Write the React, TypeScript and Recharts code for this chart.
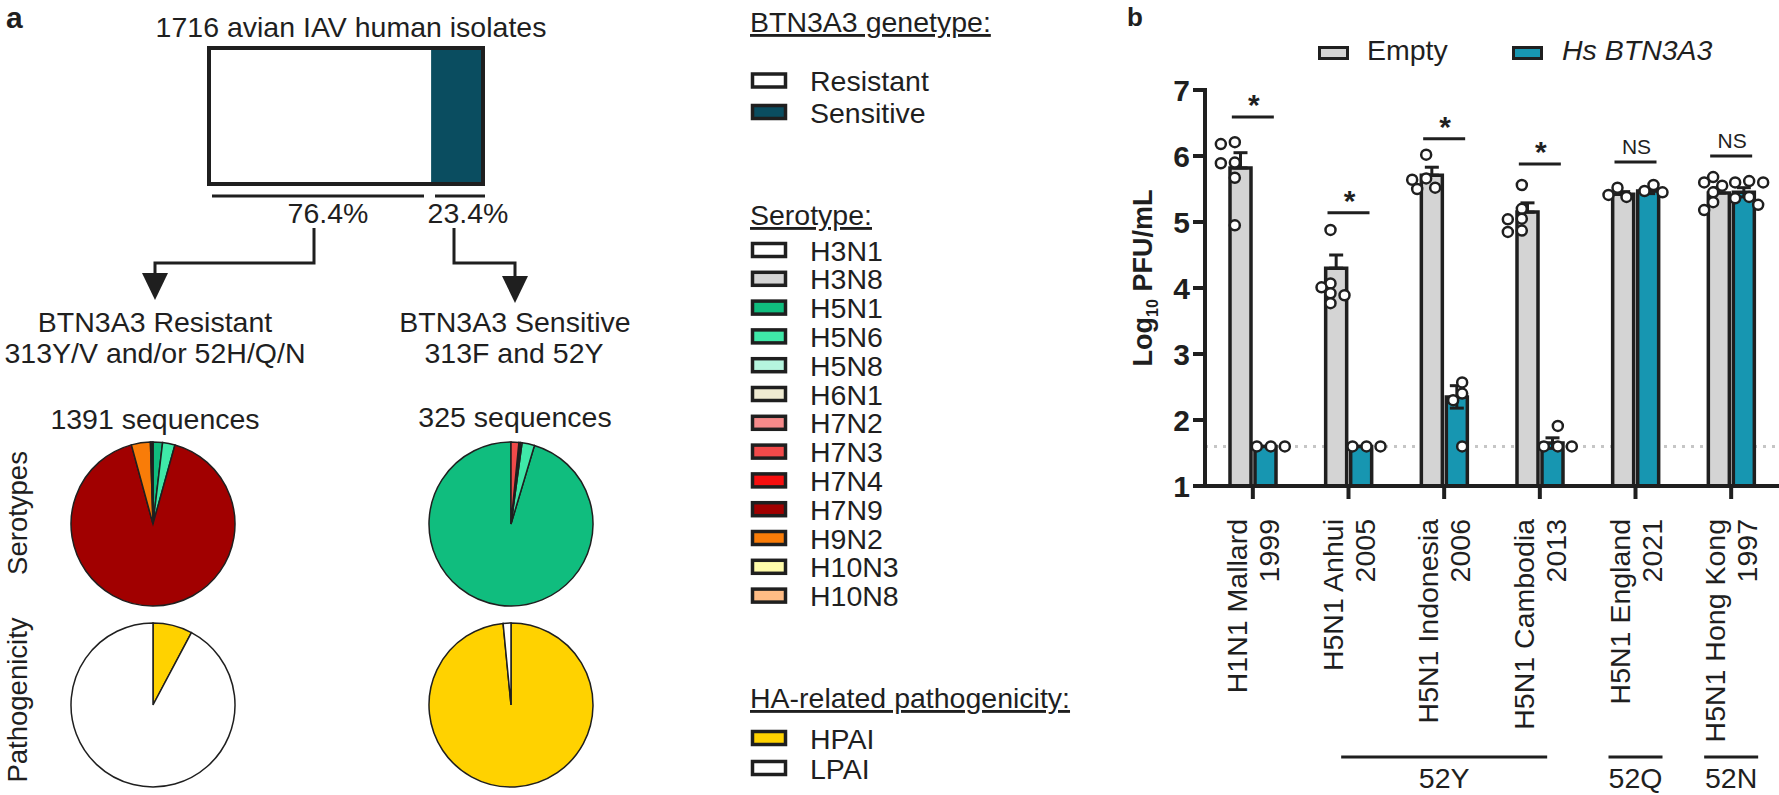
import React from "react";
import {
  BarChart,
  Bar,
  XAxis,
  YAxis,
  ReferenceArea,
  ReferenceLine,
  PieChart,
  Pie,
  Cell,
  ComposedChart,
  ErrorBar,
  Scatter,
} from "recharts";

const FONT = "'Liberation Sans', Arial, Helvetica, sans-serif";
const INK = "#1f1f1f";

// ---------- panel a ----------
const totalIsolates = 1716;
const genotypes = ["Resistant", "Sensitive"];
const genotypeCounts = [1391, 325];
const genotypeShares = ["76.4%", "23.4%"];
const genotypeColors = ["#ffffff", "#0a4d60"];

const serotypes = ["H3N1", "H3N8", "H5N1", "H5N6", "H5N8", "H6N1", "H7N2", "H7N3", "H7N4", "H7N9", "H9N2", "H10N3", "H10N8"];
const serotypeColors = ["#ffffff", "#d4d4d4", "#10bd7e", "#3fe8a8", "#b5f5de", "#efebd2", "#f68a8a", "#f24a4a", "#f70f0f", "#a10000", "#f97c08", "#fffcab", "#ffbc85"];
const resistantSerotypeCounts = [0, 0, 26, 34, 0, 0, 0, 0, 0, 1272, 52, 4, 3];
const sensitiveSerotypeCounts = [0, 0, 310, 8, 0, 1, 1, 5, 0, 0, 0, 0, 0];

const pathogenicity = ["HPAI", "LPAI"];
const pathogenicityColors = ["#ffd200", "#ffffff"];
const resistantPathogenicity = [108, 1283];
const sensitivePathogenicity = [320, 5];

// ---------- panel b ----------
const strains = ["H1N1 Mallard", "H5N1 Anhui", "H5N1 Indonesia", "H5N1 Cambodia", "H5N1 England", "H5N1 Hong Kong"];
const strainYears = ["1999", "2005", "2006", "2013", "2021", "1997"];
const emptyMeans = [5.82, 4.3, 5.71, 5.15, 5.42, 5.44];
const emptySem = [0.23, 0.2, 0.12, 0.14, 0.04, 0.08];
const hsMeans = [1.6, 1.6, 2.35, 1.65, 5.47, 5.45];
const hsSem = [0, 0, 0.17, 0.08, 0.04, 0.07];
const emptyPoints = [
  [6.21, 6.18, 5.9, 5.89, 5.67, 4.95],
  [4.88, 4.07, 4.01, 3.92, 3.89, 3.77],
  [6.02, 5.66, 5.64, 5.52, 5.5],
  [5.56, 5.2, 5.05, 5.04, 4.87, 4.85],
  [5.52, 5.41, 5.38],
  [5.68, 5.6, 5.55, 5.45, 5.3, 5.18],
];
const hsPoints = [
  [1.6, 1.6, 1.6],
  [1.6, 1.6, 1.6],
  [2.57, 2.4, 2.3, 1.6],
  [1.91, 1.6, 1.6, 1.6],
  [5.56, 5.47, 5.45],
  [5.62, 5.6, 5.6, 5.38, 5.36, 5.26],
];
const sigLevels = [6.59, 5.14, 6.26, 5.88, 5.91, 6.0];
const sigMarks = ["*", "*", "*", "*", "NS", "NS"];
const clades = [
  { label: "52Y", members: [1, 2, 3] },
  { label: "52Q", members: [4] },
  { label: "52N", members: [5] },
];
const yTicks = [1, 2, 3, 4, 5, 6, 7];
const limitOfDetection = 1.6;

// layout
const PLOT_TOP = 90;
const PLOT_H = 396;
const PX_PER_UNIT = PLOT_H / (yTicks[yTicks.length - 1] - yTicks[0]);
const BAR_SIZE = 21;
const BAR_GAP = 15;
const PAIR_OFFSET = (BAR_SIZE + BAR_GAP) / 2;
const CANDIDATES = [0, -9, 9, -14, 14, -4.5, 4.5];

// spread overlapping dots sideways, like a scatter dot plot
function spreadOffsets(values: number[]) {
  const order = values.map((_, i) => i).sort((a, b) => values[b] - values[a]);
  const placed: { dx: number; y: number }[] = [];
  const out = values.map(() => 0);
  for (const i of order) {
    const y = values[i] * PX_PER_UNIT;
    const dx = CANDIDATES.find((c) => placed.every((p) => Math.hypot(p.dx - c, p.y - y) >= 9.5)) ?? 0;
    placed.push({ dx, y });
    out[i] = dx;
  }
  return out;
}

const barRows = strains.map((name, i) => ({
  name,
  empty: emptyMeans[i],
  hs: hsMeans[i],
  emptyErr: [0, emptySem[i]],
  hsErr: [hsSem[i], hsSem[i]],
}));

const dotsFor = (points: number[][], side: number) =>
  strains.flatMap((name, i) => {
    const offs = spreadOffsets(points[i]);
    return points[i].map((v, k) => ({ name, v, dx: side * PAIR_OFFSET + offs[k] }));
  });
const emptyDots = dotsFor(emptyPoints, -1);
const hsDots = dotsFor(hsPoints, 1);
const sigRows = strains.map((name, i) => ({ name, v: sigLevels[i], mark: sigMarks[i] }));

const renderDot = (p: any) => (
  <circle cx={p.cx + (p.payload?.dx ?? 0)} cy={p.cy} r={5} fill="#fff" stroke={INK} strokeWidth={2.5} />
);

const renderSig = (p: any) => {
  const mark = p.payload?.mark ?? "";
  const star = mark === "*";
  return (
    <g>
      <line x1={p.cx - 21} x2={p.cx + 21} y1={p.cy} y2={p.cy} stroke={INK} strokeWidth={3} />
      <text
        x={p.cx + 1}
        y={star ? p.cy - 2 : p.cy - 8}
        textAnchor="middle"
        fontSize={star ? 30 : 21}
        fontWeight={star ? "bold" : "normal"}
        fontFamily={FONT}
        fill={INK}
      >
        {mark}
      </text>
    </g>
  );
};

const StrainTick = (p: any) => {
  const { x, y, payload } = p;
  const i = strains.indexOf(payload.value);
  const top = y + 20;
  const clade = clades.find((c) => c.members[Math.floor(c.members.length / 2)] === i);
  const half = clade && clade.members.length > 1 ? 103 : 27;
  return (
    <g fontFamily={FONT} fontSize={28.5} fill={INK}>
      <text x={x - 6} y={top} textAnchor="end" transform={`rotate(-90 ${x - 6} ${top})`}>
        {strains[i]}
      </text>
      <text x={x + 26} y={top} textAnchor="end" transform={`rotate(-90 ${x + 26} ${top})`}>
        {strainYears[i]}
      </text>
      {clade ? (
        <g>
          <line x1={x - half} x2={x + half} y1={y + 258} y2={y + 258} stroke={INK} strokeWidth={3} />
          <text x={x} y={y + 289} textAnchor="middle">
            {clade.label}
          </text>
        </g>
      ) : null}
    </g>
  );
};

const YLabel = (p: any) => {
  const vb = p.viewBox || { x: 0, y: PLOT_TOP, width: 105, height: PLOT_H };
  const bx = vb.x + 52;
  const cy = vb.y + vb.height / 2 - 10;
  return (
    <text
      x={bx}
      y={cy}
      transform={`rotate(-90 ${bx} ${cy})`}
      textAnchor="middle"
      fontFamily={FONT}
      fontSize={27}
      fontWeight="bold"
      fill={INK}
    >
      Log
      <tspan dy={6} fontSize={16}>
        10
      </tspan>
      <tspan dy={-6}> PFU/mL</tspan>
    </text>
  );
};

function IsolateBox() {
  const row = [{ name: "isolates", Resistant: genotypeCounts[0], Sensitive: genotypeCounts[1] }];
  return (
    <div style={{ position: "absolute", left: 200, top: 40 }}>
      <BarChart width={300} height={160} data={row} layout="vertical" margin={{ top: 8, left: 9, right: 17, bottom: 16 }} barCategoryGap={0}>
        <XAxis type="number" hide domain={[0, totalIsolates]} />
        <YAxis type="category" dataKey="name" hide />
        {genotypes.map((g, i) => (
          <Bar key={g} dataKey={g} stackId="g" fill={genotypeColors[i]} isAnimationActive={false} />
        ))}
        <ReferenceArea x1={0} x2={totalIsolates} fill="none" stroke={INK} strokeWidth={4} ifOverflow="visible" zIndex={1000} />
      </BarChart>
    </div>
  );
}

function PieAt({ cx, cy, labels, colors, counts, clockwise = true }: any) {
  const data = labels
    .map((name: string, i: number) => ({ name, value: counts[i], fill: colors[i] }))
    .filter((d: any) => d.value > 0);
  return (
    <div style={{ position: "absolute", left: cx - 90, top: cy - 90 }}>
      <PieChart width={180} height={180} margin={{ top: 0, right: 0, bottom: 0, left: 0 }}>
        <Pie
          data={data}
          dataKey="value"
          nameKey="name"
          cx="50%"
          cy="50%"
          innerRadius={0}
          outerRadius={82}
          startAngle={90}
          endAngle={clockwise ? -270 : 450}
          stroke={INK}
          strokeWidth={1.5}
          isAnimationActive={false}
        >
          {data.map((d: any) => (
            <Cell key={d.name} fill={d.fill} />
          ))}
        </Pie>
      </PieChart>
    </div>
  );
}

function PanelB() {
  return (
    <div style={{ position: "absolute", left: 1100, top: 0 }}>
      <ComposedChart width={679} height={795} data={barRows} margin={{ top: PLOT_TOP, right: 0, bottom: 0, left: 0 }}>
        <XAxis
          dataKey="name"
          type="category"
          allowDuplicatedCategory={false}
          height={309}
          interval={0}
          tickSize={13}
          tickMargin={0}
          axisLine={{ stroke: INK, strokeWidth: 4 }}
          tickLine={{ stroke: INK, strokeWidth: 4 }}
          tick={(p: any) => <StrainTick {...p} />}
        />
        <YAxis
          type="number"
          domain={[1, 7]}
          ticks={yTicks}
          width={105}
          tickSize={12}
          tickMargin={3}
          axisLine={{ stroke: INK, strokeWidth: 4, strokeLinecap: "square" }}
          tickLine={{ stroke: INK, strokeWidth: 4 }}
          tick={{ fill: INK, fontSize: 30, fontWeight: "bold", fontFamily: FONT }}
          label={{ content: (p: any) => <YLabel {...p} /> }}
        />
        <ReferenceLine y={limitOfDetection} stroke="#c6c6c6" strokeWidth={3} strokeDasharray="3 6" zIndex={0} />
        <Bar dataKey="empty" barSize={BAR_SIZE} fill="#d4d4d4" stroke={INK} strokeWidth={3.5} isAnimationActive={false}>
          <ErrorBar dataKey="emptyErr" direction="y" width={7} stroke={INK} strokeWidth={3} />
        </Bar>
        <Bar dataKey="hs" barSize={BAR_SIZE} fill="#1796b1" stroke={INK} strokeWidth={3.5} isAnimationActive={false}>
          <ErrorBar dataKey="hsErr" direction="y" width={7} stroke={INK} strokeWidth={3} />
        </Bar>
        <Scatter data={emptyDots} dataKey="v" shape={renderDot} isAnimationActive={false} />
        <Scatter data={hsDots} dataKey="v" shape={renderDot} isAnimationActive={false} />
        <Scatter data={sigRows} dataKey="v" shape={renderSig} isAnimationActive={false} />
      </ComposedChart>
    </div>
  );
}

function Overlay() {
  const txt = { fontFamily: FONT, fontSize: 28.5, fill: INK } as const;
  const side = { fontFamily: FONT, fontSize: 27.5, fill: INK } as const;
  const ul = { textDecoration: "underline" } as const;
  const swatch = (cy: number, fill: string, key: string) => (
    <rect key={key} x={752.5} y={cy - 6.5} width={33} height={13} fill={fill} stroke={INK} strokeWidth={3.5} />
  );
  return (
    <svg width={1779} height={795} style={{ position: "absolute", left: 0, top: 0, pointerEvents: "none" }}>
      {/* panel a labels */}
      <text x={6} y={28} fontFamily={FONT} fontSize={30} fontWeight="bold" fill={INK}>a</text>
      <text x={351} y={37} textAnchor="middle" {...txt}>{`${totalIsolates} avian IAV human isolates`}</text>

      <line x1={212} x2={424} y1={196} y2={196} stroke={INK} strokeWidth={3} />
      <line x1={435} x2={485} y1={196} y2={196} stroke={INK} strokeWidth={3} />
      <text x={328} y={223} textAnchor="middle" {...txt}>{genotypeShares[0]}</text>
      <text x={468} y={223} textAnchor="middle" {...txt}>{genotypeShares[1]}</text>

      <path d="M314,228 V263 H155 V275" fill="none" stroke={INK} strokeWidth={3} />
      <path d="M142,273 L168,273 L155,300 Z" fill={INK} />
      <path d="M454,228 V263 H515 V278" fill="none" stroke={INK} strokeWidth={3} />
      <path d="M502,276 L528,276 L515,303 Z" fill={INK} />

      <text x={155} y={332} textAnchor="middle" {...txt}>BTN3A3 Resistant</text>
      <text x={155} y={363} textAnchor="middle" {...txt}>313Y/V and/or 52H/Q/N</text>
      <text x={515} y={332} textAnchor="middle" {...txt}>BTN3A3 Sensitive</text>
      <text x={514} y={363} textAnchor="middle" {...txt}>313F and 52Y</text>
      <text x={155} y={429} textAnchor="middle" {...txt}>{`${genotypeCounts[0]} sequences`}</text>
      <text x={515} y={427} textAnchor="middle" {...txt}>{`${genotypeCounts[1]} sequences`}</text>

      <text x={27} y={513} textAnchor="middle" transform="rotate(-90 27 513)" {...side}>Serotypes</text>
      <text x={27} y={700} textAnchor="middle" transform="rotate(-90 27 700)" {...side}>Pathogenicity</text>

      {/* panel a legends */}
      <text x={750} y={32} {...txt} style={ul}>BTN3A3 genetype:</text>
      {genotypes.map((g, i) => {
        const cy = 80.5 + i * 31.5;
        return (
          <g key={g}>
            {swatch(cy, genotypeColors[i], g + "s")}
            <text x={810} y={cy + 10.5} {...txt}>{g}</text>
          </g>
        );
      })}
      <text x={750} y={225} {...txt} style={ul}>Serotype:</text>
      {serotypes.map((s, i) => {
        const cy = 250 + i * 28.8;
        return (
          <g key={s}>
            {swatch(cy, serotypeColors[i], s + "s")}
            <text x={810} y={cy + 10.5} {...txt}>{s}</text>
          </g>
        );
      })}
      <text x={750} y={708} {...txt} style={ul}>HA-related pathogenicity:</text>
      {pathogenicity.map((s, i) => {
        const cy = 738 + i * 30;
        return (
          <g key={s}>
            {swatch(cy, pathogenicityColors[i], s + "s")}
            <text x={810} y={cy + 10.5} {...txt}>{s}</text>
          </g>
        );
      })}

      {/* panel b label + legend */}
      <text x={1127} y={26} fontFamily={FONT} fontSize={26} fontWeight="bold" fill={INK}>b</text>
      <rect x={1319.5} y={47.5} width={28} height={11} fill="#d4d4d4" stroke={INK} strokeWidth={3} />
      <text x={1367} y={60} {...txt}>Empty</text>
      <rect x={1513.5} y={47.5} width={28} height={11} fill="#1796b1" stroke={INK} strokeWidth={3} />
      <text x={1562} y={60} {...txt} fontStyle="italic">Hs BTN3A3</text>
    </svg>
  );
}

export default function App() {
  return (
    <div
      style={{
        position: "absolute",
        left: 0,
        top: 0,
        width: 1779,
        height: 795,
        background: "#fff",
        fontFamily: FONT,
        overflow: "hidden",
      }}
    >
      <IsolateBox />
      <PieAt cx={153} cy={524} labels={serotypes} colors={serotypeColors} counts={resistantSerotypeCounts} />
      <PieAt cx={511} cy={524} labels={serotypes} colors={serotypeColors} counts={sensitiveSerotypeCounts} clockwise={false} />
      <PieAt cx={153} cy={705} labels={pathogenicity} colors={pathogenicityColors} counts={resistantPathogenicity} />
      <PieAt cx={511} cy={705} labels={pathogenicity} colors={pathogenicityColors} counts={sensitivePathogenicity} />
      <PanelB />
      <Overlay />
    </div>
  );
}
